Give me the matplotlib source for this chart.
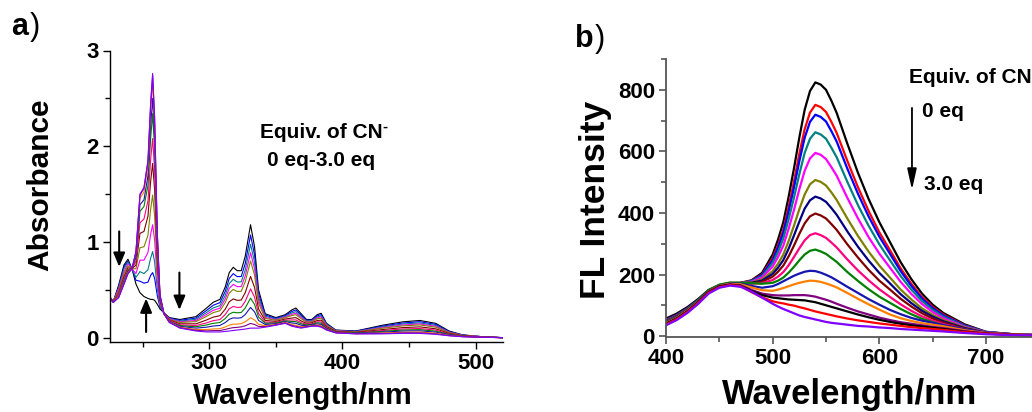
import matplotlib.pyplot as plt
from matplotlib.ticker import MultipleLocator

plt.rcParams['font.family'] = ['Liberation Sans', 'DejaVu Sans']
plt.rcParams['font.weight'] = 'bold'

# ---- panel a: UV-vis absorbance, 0 -> 3.0 eq CN- ----
wl_a = [225, 228, 232, 236, 239, 242, 245, 248, 251, 254, 256, 257.5, 259, 261, 263,
        266, 270, 278, 290, 298, 303, 308, 312, 315, 318, 321, 324, 327, 331, 334, 337, 342,
        350, 357, 362, 365, 369, 373, 377, 381, 384, 388, 395, 410, 430, 445, 458, 470, 480,
        490, 505, 521]

abs_black = [.43, .38, .55, .76, .82, .72, .56, .47, .43, .41, .40, .40, .39, .35, .30,
             .26, .21, .19, .22, .31, .37, .40, .53, .68, .735, .70, .70, .85, 1.18, .95, .50, .25,
             .21, .24, .29, .31, .25, .19, .19, .24, .255, .15, .08, .07, .13, .165, .18, .15, .07,
             .03, .01, 0]
abs_blue = [.43, .38, .53, .74, .80, .72, .60, .59, .57, .58, .65, .68, .62, .44, .32,
            .26, .205, .181, .205, .285, .339, .366, .484, .619, .669, .638, .639, .774, 1.072, .865, .46, .236,
            .202, .231, .273, .29, .235, .182, .183, .228, .241, .143, .077, .067, .121, .153, .167, .139, .065,
            .028, .01, 0]
abs_teal = [.43, .38, .52, .72, .79, .72, .63, .69, .67, .71, .83, .90, .79, .51, .33,
            .26, .20, .173, .192, .263, .311, .335, .442, .564, .610, .582, .583, .706, .975, .789, .424, .223,
            .195, .223, .258, .272, .222, .175, .177, .217, .227, .137, .074, .064, .113, .142, .154, .128, .06,
            .026, .01, 0]
abs_magenta = [.43, .38, .51, .69, .77, .72, .67, .81, .81, .89, 1.08, 1.18, 1.02, .60, .35,
               .26, .197, .166, .18, .243, .286, .308, .404, .515, .557, .533, .534, .645, .888, .72, .392, .212,
               .188, .216, .244, .256, .21, .168, .171, .208, .216, .131, .072, .062, .106, .133, .144, .119, .057,
               .025, .01, 0]
abs_olive = [.43, .38, .49, .67, .75, .72, .72, .94, .95, 1.07, 1.34, 1.49, 1.27, .70, .37,
             .26, .19, .159, .168, .223, .262, .281, .367, .467, .504, .483, .485, .584, .802, .653, .36, .201,
             .182, .209, .231, .24, .198, .162, .166, .198, .204, .126, .07, .06, .099, .123, .133, .11, .053,
             .023, .01, 0]
abs_maroon = [.42, .37, .47, .64, .73, .72, .76, 1.09, 1.11, 1.27, 1.63, 1.82, 1.54, .80, .39,
              .255, .185, .145, .145, .185, .215, .23, .298, .375, .405, .39, .393, .47, .64, .525, .30, .18,
              .17, .195, .205, .21, .175, .15, .155, .18, .183, .115, .065, .055, .085, .105, .113, .093, .045,
              .02, .008, 0]
abs_pink = [.42, .37, .46, .62, .71, .72, .80, 1.20, 1.24, 1.43, 1.86, 2.08, 1.75, .88, .41,
            .25, .18, .134, .127, .155, .178, .189, .242, .302, .326, .316, .319, .379, .51, .423, .252, .163,
            .16, .184, .185, .186, .157, .14, .147, .166, .165, .107, .061, .051, .074, .091, .096, .079, .039,
            .018, .007, 0]
abs_green = [.42, .37, .44, .60, .70, .72, .84, 1.32, 1.37, 1.59, 2.08, 2.34, 1.96, .97, .42,
             .25, .17, .126, .114, .133, .15, .159, .20, .247, .266, .26, .263, .31, .413, .347, .216, .151,
             .153, .176, .169, .168, .144, .133, .14, .155, .152, .10, .059, .049, .066, .08, .084, .068, .035,
             .016, .006, 0]
abs_royal = [.42, .37, .43, .58, .69, .72, .86, 1.39, 1.44, 1.69, 2.22, 2.50, 2.09, 1.02, .43,
             .25, .17, .118, .10, .11, .122, .128, .158, .192, .207, .204, .208, .242, .316, .27, .18, .138,
             .146, .168, .154, .15, .13, .126, .134, .144, .139, .094, .056, .046, .058, .069, .072, .058, .03,
             .014, .006, 0]
abs_orange = [.42, .37, .43, .57, .68, .72, .89, 1.46, 1.52, 1.79, 2.37, 2.67, 2.22, 1.07, .44,
              .25, .165, .109, .085, .085, .091, .094, .112, .131, .141, .142, .147, .166, .208, .185, .14, .124,
              .138, .159, .137, .13, .115, .118, .127, .132, .125, .087, .053, .043, .049, .057, .059, .047, .025,
              .012, .005, 0]
abs_purple = [.42, .37, .42, .56, .67, .72, .90, 1.49, 1.56, 1.84, 2.43, 2.74, 2.28, 1.09, .45,
              .25, .16, .104, .077, .071, .074, .075, .086, .097, .105, .108, .113, .124, .149, .138, .118, .116,
              .134, .154, .128, .119, .107, .114, .123, .125, .117, .083, .051, .041, .044, .05, .051, .04, .022,
              .011, .005, 0]
abs_violet = [.42, .37, .42, .56, .67, .72, .90, 1.50, 1.57, 1.85, 2.45, 2.76, 2.30, 1.10, .45,
              .25, .16, .10, .07, .06, .06, .06, .065, .07, .075, .08, .085, .09, .10, .10, .10, .11,
              .13, .15, .12, .11, .10, .11, .12, .12, .11, .08, .05, .04, .04, .045, .045, .035, .02,
              .01, .005, 0]

abs_curves = [abs_black, abs_blue, abs_teal, abs_magenta, abs_olive, abs_maroon, abs_pink,
              abs_green, abs_royal, abs_orange, abs_purple, abs_violet]
abs_colors = ['#000000', '#0000FF', '#008080', '#FF00FF', '#808000', '#800000', '#FF0080',
              '#008000', '#1515B0', '#FF8000', '#800080', '#8000FF']

# ---- panel b: fluorescence, 0 -> 3.0 eq CN- ----
wl_b = [400, 410, 420, 430, 440, 450, 460, 470, 480, 490, 500, 505, 510, 515, 520, 525, 530,
        535, 540, 545, 550, 555, 560, 570, 580, 590, 600, 610, 620, 630, 640, 650, 660, 680,
        700, 725, 750]

fl_curves = [
    [57, 73, 94, 120, 150, 166, 172, 173, 181, 205, 265, 313, 370, 453, 545, 645, 735, 796, 824, 817, 800, 765, 725, 625, 530, 445, 370, 305, 240, 185, 138, 102, 75, 38, 14, 6, 3],
    [52, 68, 90, 116, 146, 163, 170, 173, 180, 200, 253, 295, 346, 420, 502, 592, 672, 726, 751, 744, 728, 696, 660, 569, 483, 406, 337, 279, 220, 170, 127, 95, 70, 35, 13, 6, 3],
    [52, 68, 90, 117, 147, 164, 171, 172, 179, 198, 247, 287, 336, 405, 483, 568, 644, 696, 719, 712, 697, 666, 632, 544, 462, 388, 323, 267, 211, 163, 122, 91, 67, 34, 13, 6, 3],
    [50, 66, 88, 115, 146, 164, 171, 172, 178, 194, 238, 273, 317, 380, 450, 526, 595, 641, 662, 655, 641, 612, 581, 501, 425, 358, 298, 246, 195, 151, 114, 85, 63, 32, 13, 6, 3],
    [50, 66, 88, 115, 146, 164, 171, 172, 176, 190, 226, 257, 294, 349, 410, 477, 537, 577, 595, 589, 575, 549, 521, 449, 382, 321, 268, 222, 176, 137, 104, 78, 58, 30, 12, 5, 3],
    [48, 65, 87, 114, 146, 164, 172, 172, 174, 184, 211, 235, 265, 309, 359, 412, 460, 493, 507, 501, 489, 467, 442, 382, 325, 274, 229, 190, 151, 119, 90, 69, 52, 28, 11, 5, 3],
    [48, 65, 87, 114, 146, 164, 172, 172, 173, 180, 202, 222, 247, 284, 327, 372, 414, 441, 453, 447, 436, 416, 394, 340, 290, 245, 205, 171, 136, 107, 82, 63, 48, 26, 11, 5, 2],
    [47, 64, 86, 114, 146, 165, 172, 172, 172, 176, 193, 209, 229, 259, 294, 332, 366, 389, 398, 392, 382, 364, 345, 298, 255, 215, 180, 151, 121, 96, 74, 57, 44, 24, 10, 5, 2],
    [46, 63, 86, 114, 147, 165, 173, 172, 170, 172, 182, 193, 208, 230, 257, 285, 311, 328, 334, 328, 319, 304, 288, 249, 213, 181, 152, 127, 103, 82, 64, 50, 39, 22, 10, 5, 2],
    [46, 63, 87, 116, 149, 167, 174, 173, 172, 170, 173, 180, 190, 206, 225, 246, 265, 277, 281, 275, 267, 254, 241, 208, 179, 152, 128, 108, 88, 71, 56, 45, 35, 20, 10, 5, 2],
    [44, 61, 85, 113, 146, 164, 171, 170, 163, 157, 162, 169, 178, 187, 196, 203, 209, 212, 211, 206, 199, 191, 181, 160, 140, 120, 102, 85, 71, 59, 50, 43, 36, 22, 11, 5, 3],
    [42, 59, 83, 111, 145, 163, 170, 168, 158, 149, 147, 151, 156, 162, 168, 173, 177, 180, 179, 176, 171, 165, 158, 140, 121, 103, 86, 70, 58, 49, 42, 37, 32, 19, 10, 5, 3],
    [40, 57, 81, 110, 144, 162, 168, 165, 150, 138, 133, 132, 132, 132, 133, 133, 133, 131, 128, 123, 118, 112, 105, 92, 80, 70, 60, 52, 45, 40, 35, 30, 26, 16, 9, 4, 2],
    [40, 57, 80, 109, 143, 161, 167, 163, 147, 133, 125, 123, 121, 119, 118, 117, 116, 113, 110, 105, 100, 95, 90, 80, 70, 61, 53, 46, 40, 35, 31, 27, 23, 14, 8, 4, 2],
    [38, 55, 78, 107, 141, 159, 166, 162, 143, 126, 113, 109, 106, 102, 99, 94, 90, 85, 80, 76, 72, 68, 64, 57, 51, 46, 41, 37, 33, 29, 26, 23, 20, 13, 8, 4, 2],
    [35, 52, 75, 104, 138, 157, 164, 160, 145, 125, 105, 96, 88, 81, 74, 67, 62, 58, 54, 50, 46, 43, 41, 37, 33, 31, 28, 26, 23, 21, 19, 17, 15, 10, 6, 3, 2],
]
fl_colors = ['#000000', '#FF0000', '#0000FF', '#008080', '#FF00FF', '#808000', '#000080', '#800000',
             '#FF0080', '#008000', '#1515B0', '#FF8000', '#800080', '#000000', '#FF0000', '#8000FF']

W, H = 1032, 412
fig = plt.figure(figsize=(W / 100, H / 100), dpi=100)

# panel a
axa = fig.add_axes([110 / W, 70 / H, 393 / W, 291.5 / H])
for y, c in zip(abs_curves, abs_colors):
    axa.plot(wl_a, y, color=c, lw=0.8)
axa.set_xlim(225.5, 520.5)
axa.set_ylim(-0.045, 3.0)
axa.xaxis.set_major_locator(MultipleLocator(100))
axa.xaxis.set_minor_locator(MultipleLocator(50))
axa.yaxis.set_major_locator(MultipleLocator(1))
axa.yaxis.set_minor_locator(MultipleLocator(0.5))
for s in ['top', 'right']:
    axa.spines[s].set_visible(False)
for s in ['left', 'bottom']:
    axa.spines[s].set_linewidth(1.0)
axa.tick_params(which='major', direction='out', length=5, width=1, labelsize=16, pad=3)
axa.tick_params(which='minor', direction='out', length=3.5, width=1)

arrow_kw = dict(arrowstyle='-|>,head_length=0.6,head_width=0.25', color='k', lw=1.5,
                mutation_scale=14, shrinkA=0, shrinkB=0)
axa.annotate('', xy=(232.4, 0.74), xytext=(232.4, 1.11), arrowprops=arrow_kw)
axa.annotate('', xy=(252.6, 0.41), xytext=(252.6, 0.06), arrowprops=arrow_kw)
axa.annotate('', xy=(277.6, 0.29), xytext=(277.6, 0.68), arrowprops=arrow_kw)

ta = fig.text(260 / W, 1 - 138 / H, 'Equiv. of CN', fontsize=15, ha='left', va='baseline')
fig.text(267 / W, 1 - 166 / H, '0 eq-3.0 eq', fontsize=15, ha='left', va='baseline')
fig.text(40 / W, 1 - 185 / H, 'Absorbance', fontsize=21.5, rotation=90, ha='center', va='center')
fig.text(303 / W, 1 - 404 / H, 'Wavelength/nm', fontsize=21.5, ha='center', va='baseline')
fig.text(11 / W, 1 - 35 / H, 'a', fontsize=22, ha='left', va='baseline')
fig.text(30 / W, 1 - 35 / H, ')', fontsize=22, weight='normal', ha='left', va='baseline')

# panel b
axb = fig.add_axes([666 / W, 75 / H, 384 / W, 278 / H])
for y, c in zip(fl_curves, fl_colors):
    axb.plot(wl_b, y, color=c, lw=1.6)
axb.set_xlim(400, 760)
axb.set_ylim(-3, 900)
axb.xaxis.set_major_locator(MultipleLocator(100))
axb.xaxis.set_minor_locator(MultipleLocator(50))
axb.yaxis.set_major_locator(MultipleLocator(200))
axb.yaxis.set_minor_locator(MultipleLocator(100))
for s in ['top', 'right']:
    axb.spines[s].set_visible(False)
for s in ['left', 'bottom']:
    axb.spines[s].set_linewidth(1.3)
    axb.spines[s].set_color('#555555')
axb.tick_params(which='major', direction='out', length=5, width=1.2, color='#555555',
                labelsize=16, pad=3)
axb.tick_params(which='minor', direction='out', length=3.5, width=1.2, color='#555555')

axb.annotate('', xy=(630.6, 475), xytext=(630.6, 741),
             arrowprops=dict(arrowstyle='-|>,head_length=0.9,head_width=0.2', color='k', lw=1.3,
                             mutation_scale=14, shrinkA=0, shrinkB=0))

fig.text(909 / W, 1 - 83 / H, 'Equiv. of CN', fontsize=15, ha='left', va='baseline')
fig.text(922 / W, 1 - 117 / H, '0 eq', fontsize=15, ha='left', va='baseline')
fig.text(924 / W, 1 - 190 / H, '3.0 eq', fontsize=15, ha='left', va='baseline')
fig.text(595 / W, 1 - 200 / H, 'FL Intensity', fontsize=25.5, rotation=90, ha='center', va='center')
fig.text(850 / W, 1 - 404 / H, 'Wavelength/nm', fontsize=25, ha='center', va='baseline')
fig.text(575 / W, 1 - 47 / H, 'b', fontsize=22, ha='left', va='baseline')
fig.text(595 / W, 1 - 47 / H, ')', fontsize=22, weight='normal', ha='left', va='baseline')

# small superscript minus after "CN" in panel a
fig.canvas.draw()
bb = ta.get_window_extent()
fig.text(bb.x1 / W, 1 - 131 / H, '-', fontsize=11, ha='left', va='baseline')

fig.savefig('out.png', dpi=100)
